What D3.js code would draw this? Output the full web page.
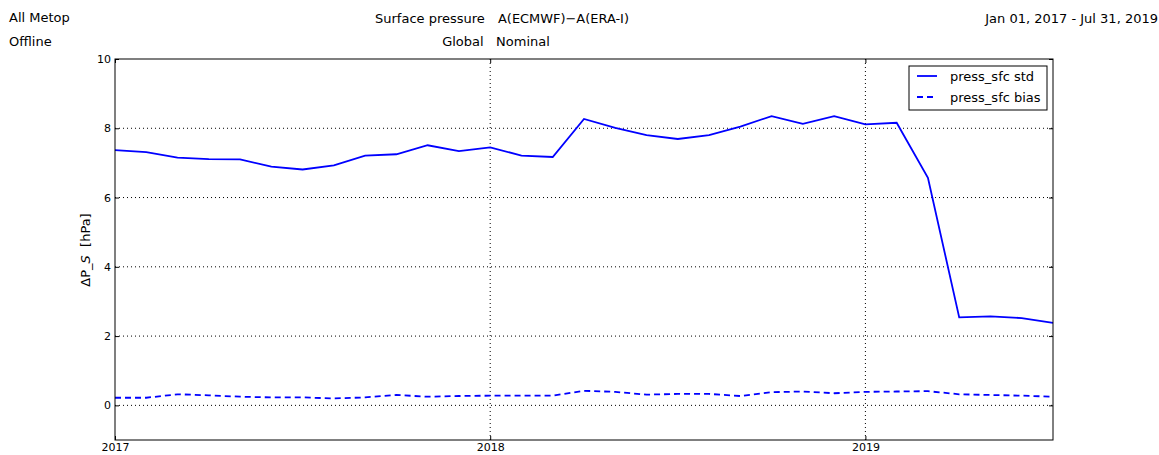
<!DOCTYPE html>
<html><head><meta charset="utf-8">
<script src="https://cdn.jsdelivr.net/npm/d3@7"></script>
<style>body{margin:0;background:#fff}svg{display:block}text{font-family:"DejaVu Sans",sans-serif;fill:#000}</style>
</head><body><svg id="c" width="1159" height="455"></svg>
<script>
// Monthly points, Jan 2017 .. Jul 2019
const months = d3.range(31).map(i => new Date(2017, i, 1));
const stdValues = [7.37,7.31,7.15,7.11,7.10,6.89,6.81,6.93,7.21,7.25,7.51,7.34,
  7.45,7.21,7.17,8.27,8.01,7.80,7.69,7.80,8.05,8.35,8.13,8.35,
  8.11,8.16,6.57,2.54,2.57,2.52,2.38];
const biasValues = [0.22,0.22,0.32,0.29,0.25,0.23,0.23,0.20,0.23,0.30,0.25,0.27,
  0.28,0.28,0.28,0.42,0.39,0.31,0.33,0.33,0.27,0.38,0.40,0.35,
  0.39,0.40,0.41,0.32,0.30,0.28,0.25];
const yTicks = [0,2,4,6,8,10];
const xTickLabels = ["2017","2018","2019"];
const seriesNames = ["press_sfc std","press_sfc bias"];

const svg = d3.select("#c");
const L=115, R=1053, T=59, B=440;
// x by month index (equal monthly spacing)
const x = d3.scaleLinear().domain([0,30]).range([L,R]);
const y = d3.scaleLinear().domain([-1,10]).range([B,T]);
const xTickIdx = [0,12,24];

const g = svg.append("g");
// grid
g.selectAll(".gy").data(yTicks.filter(v=>v>-1&&v<10)).enter().append("line")
 .attr("x1",L).attr("x2",R).attr("y1",d=>y(d)).attr("y2",d=>y(d))
 .attr("stroke","#000").attr("stroke-width",1).attr("stroke-dasharray","1,3");
g.selectAll(".gx").data(xTickIdx.slice(1)).enter().append("line")
 .attr("y1",T).attr("y2",B).attr("x1",d=>x(d)).attr("x2",d=>x(d))
 .attr("stroke","#000").attr("stroke-width",1).attr("stroke-dasharray","1,3");

// lines
const line = vals => d3.line().x((d,i)=>x(i)).y(d=>y(d))(vals);
g.append("path").attr("d",line(stdValues)).attr("fill","none").attr("stroke","#0000ff").attr("stroke-width",1.8);
g.append("path").attr("d",line(biasValues)).attr("fill","none").attr("stroke","#0000ff").attr("stroke-width",1.8).attr("stroke-dasharray","6,4");

// frame
g.append("rect").attr("x",L).attr("y",T).attr("width",R-L).attr("height",B-T).attr("fill","none").attr("stroke","#000").attr("stroke-width",1);

// axes (ticks inward)
const yAxisL = d3.axisLeft(y).tickValues(yTicks).tickSize(-4).tickPadding(4).tickFormat(d3.format("d"));
const ya = svg.append("g").attr("transform",`translate(${L},0)`).call(yAxisL);
const yAxisR = d3.axisRight(y).tickValues(yTicks).tickSize(-4).tickFormat("");
const yr = svg.append("g").attr("transform",`translate(${R},0)`).call(yAxisR);
const xAxisB = d3.axisBottom(x).tickValues(xTickIdx).tickSize(-4).tickPadding(3).tickFormat((d,i)=>xTickLabels[i]);
const xa = svg.append("g").attr("transform",`translate(0,${B})`).call(xAxisB);
const xAxisT = d3.axisTop(x).tickValues(xTickIdx).tickSize(-4).tickFormat("");
const xt = svg.append("g").attr("transform",`translate(0,${T})`).call(xAxisT);
[ya,yr,xa,xt].forEach(a=>{a.select(".domain").remove();a.selectAll("line").attr("stroke","#000");a.selectAll("text").attr("font-size",11).attr("font-family","DejaVu Sans").attr("fill","#000");});

// y label
const yl = svg.append("text").attr("transform","translate(90,250) rotate(-90)").attr("text-anchor","middle").attr("font-size",13);
yl.append("tspan").text("ΔP_");
yl.append("tspan").attr("font-style","italic").text("S");
yl.append("tspan").attr("xml:space","preserve").text("  [hPa]");

// titles
svg.append("text").attr("x",9).attr("y",22).attr("font-size",13).text("All Metop");
svg.append("text").attr("x",9).attr("y",46).attr("font-size",13).text("Offline");
const t1 = svg.append("text").attr("x",375).attr("y",23).attr("font-size",13).attr("xml:space","preserve");
t1.append("tspan").text("Surface pressure   ");
t1.append("tspan").attr("x",498).attr("textLength",131).attr("lengthAdjust","spacingAndGlyphs").text("A(ECMWF)\u2212A(ERA-I)");
svg.append("text").attr("x",496).attr("y",46).attr("font-size",13).attr("text-anchor","middle").attr("xml:space","preserve").text("Global   Nominal");
svg.append("text").attr("x",1158).attr("y",23).attr("font-size",13).attr("text-anchor","end").text("Jan 01, 2017 - Jul 31, 2019");

// legend
const lg = svg.append("g");
lg.append("rect").attr("x",909).attr("y",66).attr("width",138).attr("height",44).attr("fill","#fff").attr("stroke","#000").attr("stroke-width",1);
seriesNames.forEach((n,i)=>{
  const yy = 76 + i*21;
  lg.append("line").attr("x1",917).attr("x2",937).attr("y1",yy).attr("y2",yy).attr("stroke","#0000ff").attr("stroke-width",1.8).attr("stroke-dasharray",i? "6,4":null);
  lg.append("text").attr("x",950).attr("y",yy+5).attr("font-size",13).text(n);
});
</script></body></html>
